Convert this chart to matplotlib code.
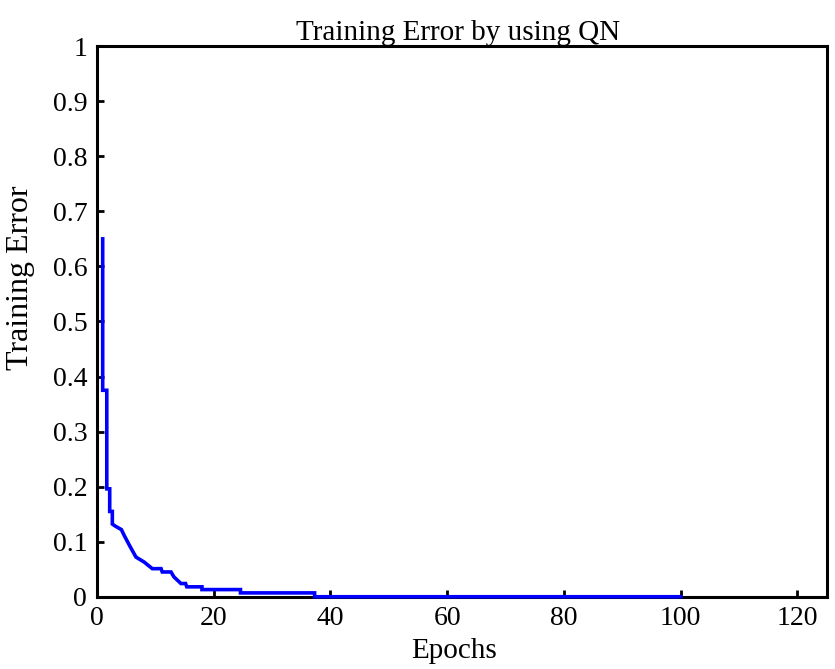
import numpy as np
import matplotlib.pyplot as plt

# Training error curve (step-like decay)
epochs = [1.0, 1.0, 1.7, 1.7, 2.2, 2.2, 2.65, 2.65, 3.2, 4.2, 4.7, 5.6, 6.7, 8.1,
          9.5, 11.0, 11.2, 12.7, 13.2, 14.4, 15.2, 15.4, 18.0, 18.0, 24.6, 24.6,
          37.3, 37.3, 100.0]
error = [0.65, 0.375, 0.375, 0.196, 0.196, 0.155, 0.155, 0.132, 0.128, 0.122, 0.111,
         0.093, 0.072, 0.063, 0.051, 0.051, 0.045, 0.045, 0.036, 0.024, 0.024,
         0.018, 0.018, 0.013, 0.013, 0.007, 0.007, 0.0, 0.0]

xticks = [0, 20, 40, 60, 80, 100, 120]
yticks = [0, 0.1, 0.2, 0.3, 0.4, 0.5, 0.6, 0.7, 0.8, 0.9, 1]
ytick_labels = ['0', '0.1', '0.2', '0.3', '0.4', '0.5', '0.6', '0.7', '0.8', '0.9', '1']

plt.rcParams['font.family'] = ['Liberation Serif', 'DejaVu Serif']

fig = plt.figure(figsize=(8.35, 6.69), dpi=100)
ax = fig.add_axes([0.116, 0.108, 0.874, 0.823])

# drawn above the spines so the zero segment shows blue on the axis
ax.plot(epochs, error, color='#0000ff', linewidth=2.6, solid_joinstyle='miter',
        zorder=5, clip_on=False)

ax.set_xlim(0, 125)
ax.set_ylim(0, 1)
ax.set_xticks(xticks)
ax.set_yticks(yticks)
ax.set_yticklabels(ytick_labels)

ax.tick_params(direction='in', length=5, width=2, labelsize=20, top=False, right=False, pad=7)
for s in ax.spines.values():
    s.set_linewidth(2.2)

ax.set_xlabel('Epochs', fontsize=21)
ax.xaxis.set_label_coords(0.49, -0.075)
ax.set_ylabel('Training Error', fontsize=23)
ax.yaxis.set_label_coords(-0.085, 0.58)
ax.set_title('Training Error by using QN', fontsize=21, pad=3, x=0.495)

fig.savefig('out.png', dpi=100)
